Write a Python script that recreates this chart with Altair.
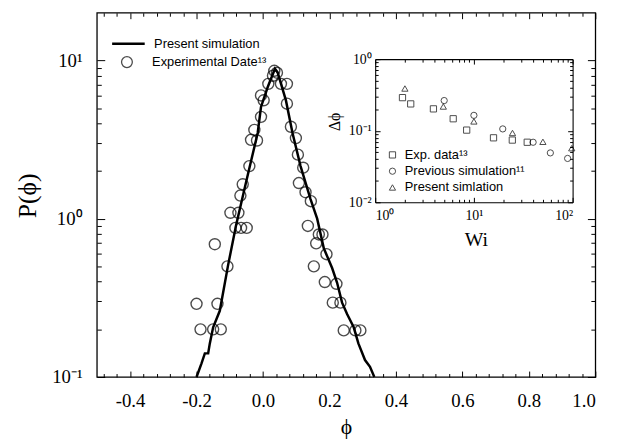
import altair as alt
import pandas as pd

# ---------------- data ----------------
sim_phi = [-0.200, -0.185, -0.175, -0.165, -0.160, -0.150, -0.130, -0.105, -0.081, -0.051,
           -0.016, -0.006, 0.014, 0.036, 0.044, 0.069, 0.089, 0.113, 0.143, 0.163,
           0.183, 0.208, 0.223, 0.238, 0.253, 0.273, 0.287, 0.307, 0.322, 0.335]
sim_P = [0.100, 0.122, 0.141, 0.141, 0.163, 0.206, 0.262, 0.509, 0.909, 1.70,
         3.48, 5.08, 6.77, 8.85, 8.40, 5.59, 3.47, 2.15, 1.33, 1.00,
         0.650, 0.488, 0.394, 0.295, 0.250, 0.206, 0.163, 0.128, 0.116, 0.100]

exp_phi = [-0.200, -0.188, -0.150, -0.127, -0.137, -0.145, -0.107, -0.083, -0.066, -0.049,
           -0.098, -0.074, -0.068, -0.061, -0.041, -0.036, -0.018, -0.026, -0.006, -0.006,
           0.002, 0.016, 0.034, 0.042, 0.030, 0.054, 0.072, 0.072, 0.084, 0.099,
           0.105, 0.121, 0.108, 0.128, 0.144, 0.135, 0.168, 0.179, 0.160, 0.191,
           0.153, 0.186, 0.221, 0.210, 0.233, 0.243, 0.278, 0.293]
exp_P = [0.29, 0.20, 0.20, 0.20, 0.29, 0.69, 0.50, 0.875, 0.875, 0.875,
         1.09, 1.09, 1.40, 1.65, 2.15, 3.15, 3.12, 3.64, 4.40, 6.01,
         5.60, 7.11, 8.60, 8.36, 8.0, 7.11, 7.11, 5.33, 3.81, 3.23,
         2.54, 2.10, 1.68, 1.47, 1.29, 0.90, 0.795, 0.795, 0.699, 0.597,
         0.50, 0.398, 0.388, 0.295, 0.295, 0.197, 0.197, 0.197]

sq_Wi = [1.89, 2.29, 3.89, 6.17, 8.45, 15.8, 24.5, 34.7]
sq_v = [0.29, 0.237, 0.202, 0.147, 0.102, 0.0796, 0.074, 0.069]
ci_Wi = [5.0, 10.0, 19.6, 39.8, 59.5, 89.0]
ci_v = [0.264, 0.164, 0.106, 0.069, 0.049, 0.041]
tr_Wi = [2.0, 4.9, 10.0, 24.6, 50.0, 98.0]
tr_v = [0.389, 0.218, 0.135, 0.093, 0.070, 0.057]

lab_sim = "Present simulation"
lab_exp = "Experimental Date\u00b9\u00b3"
ins_labels = ["Exp. data\u00b9\u00b3", "Previous simulation\u00b9\u00b9", "Present simlation"]

x_major = [-0.4, -0.2, 0.0, 0.2, 0.4, 0.6, 0.8, 1.0]
x_minor = [round(-0.48 + 0.04 * i, 2) for i in range(37)]
x_minor = [v for v in x_minor if abs(v * 5 - round(v * 5)) > 1e-6]
y_major = [0.1, 1, 10]
y_minor = [0.2, 0.3, 0.4, 0.5, 0.6, 0.7, 0.8, 0.9, 2, 3, 4, 5, 6, 7, 8, 9]
ix_major = [1, 10, 100]
ix_minor = [2, 3, 4, 5, 6, 7, 8, 9, 20, 30, 40, 50, 60, 70, 80, 90]
iy_major = [0.01, 0.1, 1]
iy_minor = [0.02, 0.03, 0.04, 0.05, 0.06, 0.07, 0.08, 0.09,
            0.2, 0.3, 0.4, 0.5, 0.6, 0.7, 0.8, 0.9]

sim_df = pd.DataFrame({"phi": sim_phi, "P": sim_P, "lab": lab_sim})
exp_df = pd.DataFrame({"phi": exp_phi, "P": exp_P, "lab": lab_exp})
ins_df = pd.concat([
    pd.DataFrame({"Wi": sq_Wi, "v": sq_v, "s": ins_labels[0]}),
    pd.DataFrame({"Wi": ci_Wi, "v": ci_v, "s": ins_labels[1]}),
    pd.DataFrame({"Wi": tr_Wi, "v": tr_v, "s": ins_labels[2]}),
])

# ---------------- layout ----------------
W, H = 505, 369
IX0, IX1, IY0, IY1 = 282, 482, 47, 192   # inset box inside plot area

SERIF = "Liberation Serif"
SANS = "Liberation Sans"
PHI = "\u03d5"

mx = alt.Scale(domain=[-0.5, 1.0], nice=False, zero=False)
my = alt.Scale(type="log", domain=[0.1, 20], nice=False)
ix = alt.Scale(type="log", domain=[1, 100], range=[IX0, IX1], nice=False)
iy = alt.Scale(type="log", domain=[0.01, 1], range=[IY1, IY0], nice=False)


def tick_axis(orient, offset, values, size, domain=False):
    return alt.Axis(orient=orient, offset=offset, values=values, tickSize=size,
                    labels=False, title=None, domain=domain, grid=False,
                    tickWidth=1, tickColor="black", domainColor="black", domainWidth=1.1)


x_lab_axis = alt.Axis(orient="bottom", values=x_major, ticks=False, tickSize=0, domain=False,
                      labelExpr="(datum.value < 0 ? '-' : '') + format(abs(datum.value), '.1f')",
                      labelFont=SERIF, labelFontSize=19, labelPadding=15, labelColor="black",
                      title=PHI, titleFont=SERIF, titleFontSize=22, titleFontWeight="normal",
                      titleX=W / 2, titleY=50, titleBaseline="middle", titleColor="black")
y_lab_axis = alt.Axis(orient="left", values=y_major, ticks=False, tickSize=0, domain=False,
                      labelExpr="datum.value >= 5 ? '10\u00b9' : datum.value >= 0.5 ? '10\u2070' : '10\u207b\u00b9'",
                      labelFont=SERIF, labelFontSize=19, labelPadding=15, labelColor="black",
                      title="P(" + PHI + ")", titleFont=SERIF, titleFontSize=26, titleFontWeight="normal",
                      titleX=-70, titleY=185, titleBaseline="middle", titleAlign="center",
                      titleColor="black")

line = alt.Chart(sim_df).mark_line(strokeWidth=2.5).encode(
    x=alt.X("phi:Q", scale=mx, axis=x_lab_axis),
    y=alt.Y("P:Q", scale=my, axis=y_lab_axis),
    color=alt.Color("lab:N", scale=alt.Scale(domain=[lab_sim], range=["black"]),
                    legend=alt.Legend(orient="none", legendX=14, legendY=13.5, title=None,
                                      symbolType="stroke", symbolSize=1089, symbolStrokeWidth=2.5,
                                      labelFont=SANS, labelFontSize=13, labelColor="black",
                                      labelOffset=8, padding=0)),
)

circles = alt.Chart(exp_df).mark_point(filled=False, size=125, strokeWidth=1.4, color="black").encode(
    x=alt.X("phi:Q", scale=mx, axis=tick_axis("top", -H, x_major, 6)),
    y=alt.Y("P:Q", scale=my, axis=tick_axis("right", -W, y_major, 8)),
    shape=alt.Shape("lab:N", scale=alt.Scale(domain=[lab_exp], range=["circle"]),
                    legend=alt.Legend(orient="none", legendX=24, legendY=43.5, title=None,
                                      symbolSize=120, symbolStrokeWidth=1.3,
                                      symbolStrokeColor="black", symbolFillColor="transparent",
                                      labelFont=SANS, labelFontSize=13, labelColor="black",
                                      labelOffset=19, padding=0)),
)


def main_axes(xa, ya):
    return alt.Chart(exp_df).mark_point(opacity=0).encode(
        x=alt.X("phi:Q", scale=mx, axis=xa),
        y=alt.Y("P:Q", scale=my, axis=ya),
    )


m3 = main_axes(tick_axis("top", -H, x_minor, 3.5), tick_axis("right", -W, y_minor, 4.5))
m4 = main_axes(tick_axis("bottom", -H, x_major, 6), tick_axis("left", -W, y_major, 8))
m5 = main_axes(tick_axis("bottom", -H, x_minor, 3.5), tick_axis("left", -W, y_minor, 4.5))

# ---------------- inset ----------------
ix_lab_axis = alt.Axis(orient="bottom", offset=-(H - IY1), values=ix_major, ticks=False, tickSize=0,
                       domain=False,
                       labelExpr="datum.value >= 50 ? '10\u00b2' : datum.value >= 5 ? '10\u00b9' : '10\u2070'",
                       labelFont=SERIF, labelFontSize=14, labelPadding=6, labelColor="black",
                       title="Wi", titleFont=SERIF, titleFontSize=20, titleFontWeight="normal",
                       titleX=(IX0 + IX1) / 2 + 2, titleY=38, titleBaseline="middle",
                       titleColor="black")
iy_lab_axis = alt.Axis(orient="left", offset=-IX0, values=iy_major, ticks=False, tickSize=0,
                       domain=False,
                       labelExpr="datum.value >= 0.5 ? '10\u2070' : datum.value >= 0.05 ? '10\u207b\u00b9' : '10\u207b\u00b2'",
                       labelFont=SERIF, labelFontSize=14, labelPadding=4, labelColor="black",
                       title="\u0394" + PHI, titleFont=SERIF, titleFontSize=16, titleFontWeight="normal",
                       titleX=-41, titleY=110, titleBaseline="middle", titleAlign="center",
                       titleColor="black")

ins_pts = alt.Chart(ins_df).mark_point(filled=False, size=40, strokeWidth=1, color="black").encode(
    x=alt.X("Wi:Q", scale=ix, axis=ix_lab_axis),
    y=alt.Y("v:Q", scale=iy, axis=iy_lab_axis),
    shape=alt.Shape("s:N", scale=alt.Scale(domain=ins_labels, range=["square", "circle", "triangle-up"]),
                    legend=alt.Legend(orient="none", legendX=293, legendY=137.5, title=None,
                                      symbolSize=40, symbolStrokeWidth=1,
                                      symbolStrokeColor="black", symbolFillColor="transparent",
                                      labelFont=SANS, labelFontSize=13, labelColor="black",
                                      labelOffset=6, rowPadding=2.5, padding=0)),
)


def inset_axes(xa, ya):
    return alt.Chart(ins_df).mark_point(opacity=0).encode(
        x=alt.X("Wi:Q", scale=ix, axis=xa),
        y=alt.Y("v:Q", scale=iy, axis=ya),
    )


i2 = inset_axes(tick_axis("top", -IY1, ix_major, 5, True), tick_axis("right", -(W - IX0), iy_major, 5, True))
i3 = inset_axes(tick_axis("top", -IY1, ix_minor, 3), tick_axis("right", -(W - IX0), iy_minor, 3))
i4 = inset_axes(tick_axis("bottom", -(H - IY0), ix_major, 5, True), tick_axis("left", -IX1, iy_major, 5, True))
i5 = inset_axes(tick_axis("bottom", -(H - IY0), ix_minor, 3), tick_axis("left", -IX1, iy_minor, 3))

chart = alt.layer(line, circles, m3, m4, m5, ins_pts, i2, i3, i4, i5).resolve_scale(
    x="independent", y="independent", color="independent", shape="independent"
).resolve_axis(x="independent", y="independent").properties(
    width=W, height=H,
    autosize=alt.AutoSizeParams(type="none"),
    padding={"left": 90, "top": 2, "right": 24, "bottom": 61},
    background="white",
).configure_view(stroke="black", strokeWidth=1.3).configure_axis(grid=False)

chart.save("out.html", embed_options={"renderer": "svg", "actions": False})
